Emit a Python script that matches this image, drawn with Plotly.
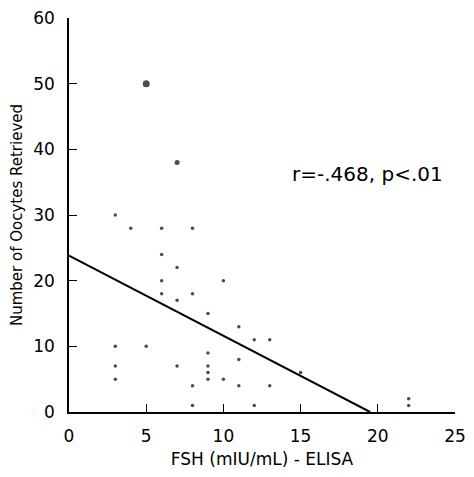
import plotly.graph_objects as go

# FSH (mIU/mL) vs oocytes retrieved
fsh = [5, 7, 3, 4, 6, 8, 6, 7, 6, 10, 6, 8, 7, 9, 11, 12, 13, 3, 5, 9, 11,
       3, 7, 9, 9, 3, 9, 10, 8, 11, 13, 8, 12, 15, 22, 22]
oocytes = [50, 38, 30, 28, 28, 28, 24, 22, 20, 20, 18, 18, 17, 15, 13, 11, 11, 10, 10, 9, 8,
           7, 7, 7, 6, 5, 5, 5, 4, 4, 4, 1, 1, 6, 2, 1]
big_points = [50, 38]

# regression line end points
fit_x = [0, 19.5]
fit_y = [23.8, 0]

x_ticks = [0, 5, 10, 15, 20, 25]
y_ticks = [0, 10, 20, 30, 40, 50, 60]

FONT = "DejaVu Sans"

sizes = [7 if y == big_points[0] else 5 if y == big_points[1] else 3.5 for y in oocytes]

fig = go.Figure()
fig.add_trace(go.Scatter(x=fsh, y=oocytes, mode="markers", cliponaxis=False,
                         marker=dict(color="black", size=sizes, line=dict(width=0)),
                         showlegend=False))
fig.add_trace(go.Scatter(x=fit_x, y=fit_y, mode="lines",
                         line=dict(color="black", width=2), showlegend=False))

fig.add_annotation(x=14.3, y=36.2, text="r=-.468, p<.01", showarrow=False,
                   xanchor="left", yanchor="middle",
                   font=dict(family=FONT, size=20, color="black"))

axis_common = dict(showgrid=False, zeroline=False, showline=True, linecolor="black",
                   linewidth=1.5, ticks="inside", ticklen=8, tickcolor="black",
                   tickwidth=1.2, automargin=False, ticklabeloverflow="allow",
                   tickfont=dict(family=FONT, size=17, color="black"))

fig.update_xaxes(range=[0, 25], tickvals=x_ticks, ticklabelstandoff=8,
                 title=dict(text="FSH (mIU/mL) - ELISA", standoff=10,
                            font=dict(family=FONT, size=17, color="black")),
                 **axis_common)
fig.update_yaxes(range=[0, 60], tickvals=y_ticks, ticklabelstandoff=9,
                 title=dict(text="Number of Oocytes Retrieved", standoff=8,
                            font=dict(family=FONT, size=15, color="black")),
                 **axis_common)

# page body adds an 8px margin all round, so the figure is sized to fit inside it
fig.update_layout(width=466, height=461, plot_bgcolor="white", paper_bgcolor="white",
                  margin=dict(l=61, r=19, t=10, b=57))

fig.write_html("out.html")
